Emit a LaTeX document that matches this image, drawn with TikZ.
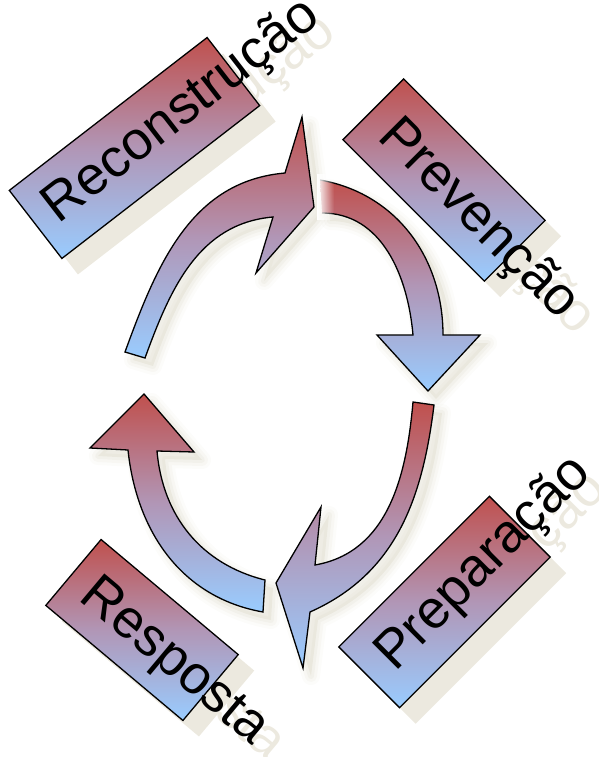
\documentclass[tikz,border=0pt]{standalone}
\usepackage{fontspec}
\setmainfont{Liberation Sans}
\usetikzlibrary{calc,fadings}
\definecolor{phasered}{HTML}{C0504D}
\definecolor{phaseblue}{HTML}{99CCFF}
\definecolor{phasemid}{HTML}{B196B6}
\definecolor{shadowbeige}{HTML}{ECE9DF}
\definecolor{shadowsoft}{HTML}{D8D4C2}
\tikzset{
  phasebox/.style={
    rectangle, draw=black, line width=1.3pt,
    top color=phasered, bottom color=phaseblue, middle color=phasemid,
    minimum height=86pt, inner sep=0pt, rotate=#1
  },
  shadowbox/.style={
    rectangle, fill=shadowbeige,
    minimum height=86pt, inner sep=0pt, rotate=#1
  },
  phaselabel/.style={
    font=\fontsize{54}{60}\selectfont, text=black,
    inner sep=0pt, anchor=base west, rotate=#1
  },
  shadowlabel/.style={
    phaselabel=#1, text=shadowbeige
  },
  cyclearrow/.style={
    top color=phasered, bottom color=phaseblue, middle color=phasemid
  },
  arrowline/.style={
    draw=black, line width=1.3pt, line join=miter
  },
}
% arrow outlines (page pixels, y downwards)
\def\arrowRecon{(125,-352) to[out=70,in=185] (285,-173) -- (302,-117) -- (314,-207)
  -- (256,-273) -- (273,-217) to[out=185,in=70] (145,-358) -- cycle}
\def\arrowPrev{(320,-180) to[out=-10,in=90] (443,-335) -- (480,-335) -- (428,-391)
  -- (377,-335) -- (413,-335) to[out=95,in=0] (322,-213)}
\def\arrowPrep{(413,-402) -- (434,-405) to[out=-97,in=24] (310,-612) -- (303,-668)
  -- (276,-583) -- (321,-507) -- (315,-565) to[out=10,in=-95] (413,-402) -- cycle}
\def\arrowResp{(265,-580) -- (263,-612) to[out=170,in=-84] (128,-450) -- (90,-448)
  -- (144,-394) -- (194,-452) -- (157,-451) to[out=-85,in=166] (265,-580) -- cycle}
\begin{document}
\begin{tikzpicture}[x=1pt, y=1pt]
  \useasboundingbox (0,0) rectangle (598,-757);

  % soft shadows of the arrows
  \foreach \w/\o in {18/0.08, 12/0.12, 6/0.16} {
    \path[shift={(8,-8)}, fill=shadowsoft, draw=shadowsoft, line width=\w pt,
      line join=round, opacity=\o] \arrowRecon;
    \path[shift={(8,-8)}, fill=shadowsoft, draw=shadowsoft, line width=\w pt,
      line join=round, opacity=\o] \arrowPrev -- cycle;
    \path[shift={(8,-8)}, fill=shadowsoft, draw=shadowsoft, line width=\w pt,
      line join=round, opacity=\o] \arrowPrep;
    \path[shift={(8,-8)}, fill=shadowsoft, draw=shadowsoft, line width=\w pt,
      line join=round, opacity=\o] \arrowResp;
  }

  % cycle arrows
  \path[cyclearrow] \arrowRecon;
  \path[arrowline] \arrowRecon;
  \path[cyclearrow] \arrowPrev -- cycle;
  \path[arrowline] \arrowPrev;
  \fill[white, path fading=east] (317,-174) rectangle (334,-220);
  \path[cyclearrow] \arrowPrep;
  \path[arrowline] \arrowPrep;
  \path[cyclearrow] \arrowResp;
  \path[arrowline] \arrowResp;

  % Reconstrucao
  \coordinate (recon c) at (134.5,-148);
  \node[shadowbox=37.7, minimum width=250pt] (recon shadow) at ($(recon c)+(16,-16)$) {};
  \node[shadowlabel=37.7] (recon label shadow)
    at ($(recon c)+(16,-16)+(217.7:107)+(-52.3:14)$) {Reconstrução};
  \node[phasebox=37.7, minimum width=250pt] (recon) at (recon c) {};
  \node[phaselabel=37.7] (recon label)
    at ($(recon c)+(217.7:107)+(-52.3:14)$) {Reconstrução};

  % Prevencao
  \coordinate (prev c) at (444,-180);
  \node[shadowbox=-45, minimum width=200pt] (prev shadow) at ($(prev c)+(16,-16)$) {};
  \node[shadowlabel=-45] (prev label shadow)
    at ($(prev c)+(16,-16)+(135:77)+(-135:18)$) {Prevenção};
  \node[phasebox=-45, minimum width=200pt] (prev) at (prev c) {};
  \node[phaselabel=-45] (prev label)
    at ($(prev c)+(135:77)+(-135:18)$) {Prevenção};

  % Preparacao
  \coordinate (prep c) at (444.5,-602);
  \node[shadowbox=45, minimum width=213pt] (prep shadow) at ($(prep c)+(16,-16)$) {};
  \node[shadowlabel=45] (prep label shadow)
    at ($(prep c)+(16,-16)+(225:85)+(-45:15)$) {Preparação};
  \node[phasebox=45, minimum width=213pt] (prep) at (prep c) {};
  \node[phaselabel=45] (prep label)
    at ($(prep c)+(225:85)+(-45:15)$) {Preparação};

  % Resposta
  \coordinate (resp c) at (142,-630);
  \node[shadowbox=-40, minimum width=179pt] (resp shadow) at ($(resp c)+(16,-16)$) {};
  \node[shadowlabel=-40] (resp label shadow)
    at ($(resp c)+(16,-16)+(140:69)+(-130:18)$) {Resposta};
  \node[phasebox=-40, minimum width=179pt] (resp) at (resp c) {};
  \node[phaselabel=-40] (resp label)
    at ($(resp c)+(140:69)+(-130:18)$) {Resposta};
\end{tikzpicture}
\end{document}
